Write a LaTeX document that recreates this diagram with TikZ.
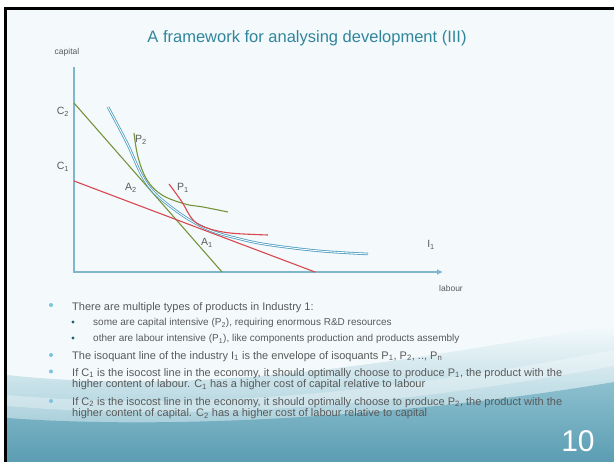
\documentclass[tikz,border=0pt]{standalone}
\usepackage{fontspec}
\setmainfont{Liberation Sans}
\usetikzlibrary{arrows.meta,positioning}
\definecolor{titleblue}{HTML}{31859C}
\definecolor{bodygray}{HTML}{595959}
\definecolor{slidebg}{HTML}{F4FAFC}
\definecolor{axisblue}{HTML}{7FB6CB}
\definecolor{envblue}{HTML}{4A9CC0}
\definecolor{costred}{HTML}{D9474F}
\definecolor{costgreen}{HTML}{77933C}
\definecolor{dotlight}{HTML}{7CC4DE}
\definecolor{dotdark}{HTML}{1F5F74}
\definecolor{wavelight}{HTML}{D2E7EE}
\definecolor{wavemid}{HTML}{8DC0CF}
\definecolor{wavedark}{HTML}{5B9DB3}

\tikzset{
  txt/.style={anchor=north west, inner sep=0pt, text=bodygray,
    font=\fontsize{11}{10}\selectfont, align=left},
  subtxt/.style={txt, font=\fontsize{10}{10}\selectfont},
  lbl/.style={inner sep=0pt, text=bodygray, font=\fontsize{10.5}{12}\selectfont},
  axlbl/.style={lbl, font=\fontsize{8.5}{10}\selectfont},
  bigdot/.style={circle, fill=dotlight, inner sep=0pt, minimum size=4pt},
  smalldot/.style={circle, fill=dotdark, inner sep=0pt, minimum size=3.4pt},
  isocost/.style={line width=1.1pt},
  envelope/.style={draw=envblue, double=white, line width=0.8pt, double distance=0.9pt},
}

\begin{document}
\begin{tikzpicture}[x=1pt,y=-1pt]
\useasboundingbox (0,0) rectangle (614,462);
% slide
\fill[white] (0,0) rectangle (614,462);
\fill[black] (4,7) rectangle (614,462);
\fill[slidebg] (7,10) rectangle (614,462);
\shade[top color=slidebg, bottom color=wavemid]
  (7,462) -- (7,375) .. controls (220,398) and (430,355) .. (614,325) -- (614,462) -- cycle;
\shade[top color=wavemid, bottom color=wavedark]
  (7,462) -- (7,418) .. controls (200,432) and (450,410) .. (614,382) -- (614,462) -- cycle;
\fill[white, opacity=0.3]
  (7,395) .. controls (220,414) and (430,385) .. (614,350) -- (614,366) .. controls (430,400) and (220,424) .. (7,406) -- cycle;

\node[text=titleblue, font=\fontsize{16.5}{19}\selectfont] (title) at (307,38) {A framework for analysing development (III)};

% axes
\coordinate (O) at (74,272);
\coordinate (ytop) at (74,67);
\coordinate (xend) at (443,272);
\draw[axisblue, line width=1.4pt, -{Latex[length=6pt,width=6pt]}] (ytop) -- (O) -- (xend);
\node[axlbl] (capital) at (67,52) {capital};
\node[axlbl] (labour) at (451,288) {labour};

% isocost lines
\coordinate (c2a) at (74,103);
\coordinate (c2b) at (222,272);
\coordinate (c1a) at (74,181);
\coordinate (c1b) at (315,272);
\draw[isocost, costgreen] (c2a) -- (c2b);
\draw[isocost, costred] (c1a) -- (c1b);

% envelope I1
\draw[envelope] plot[smooth, tension=0.6] coordinates
  {(108,107) (127,143) (147,184) (175,210) (207,229) (240,239) (270,245) (320,251) (368,254)};
% isoquants
\draw[isocost, costgreen] plot[smooth, tension=0.6] coordinates
  {(134,133) (138,157) (147,180) (162,195) (185,204) (203,207) (228,212)};
\draw[isocost, costred] plot[smooth, tension=0.6] coordinates
  {(169,184) (182,202) (193,220) (207,228) (230,233) (268,235)};

% labels
\node[lbl] (lc2) at (63,112) {C\textsubscript{2}};
\node[lbl] (lc1) at (63,167) {C\textsubscript{1}};
\node[lbl] (lp2) at (141,140) {P\textsubscript{2}};
\node[lbl] (lp1) at (183,188) {P\textsubscript{1}};
\node[lbl] (la2) at (131,188) {A\textsubscript{2}};
\node[lbl] (la1) at (207,243) {A\textsubscript{1}};
\node[lbl] (li1) at (431,245) {I\textsubscript{1}};

% bullets
\node[txt] (b1) at (72,302) {There are multiple types of products in Industry 1:};
\node[subtxt] (s1) at (93,318.5) {some are capital intensive (P\textsubscript{2}), requiring enormous R\&D resources};
\node[subtxt] (s2) at (93,334.5) {other are labour intensive (P\textsubscript{1}), like components production and products assembly};
\node[txt] (b2) at (72,351) {The isoquant line of the industry I\textsubscript{1} is the envelope of isoquants P\textsubscript{1}, P\textsubscript{2}, .., P\textsubscript{n}};
\node[txt] (b3) at (72,368) {If C\textsubscript{1} is the isocost line in the economy, it should optimally choose to produce P\textsubscript{1}, the product with the\\higher content of labour. C\textsubscript{1} has a higher cost of capital relative to labour};
\node[txt] (b4) at (72,397) {If C\textsubscript{2} is the isocost line in the economy, it should optimally choose to produce P\textsubscript{2}, the product with the\\higher content of capital. C\textsubscript{2} has a higher cost of labour relative to capital};
\node[bigdot] (d1) at (51,305) {};
\node[smalldot] (d2) at (73,322) {};
\node[smalldot] (d3) at (73,338) {};
\node[bigdot] (d4) at (51,355) {};
\node[bigdot] (d5) at (51,371.5) {};
\node[bigdot] (d6) at (51,401) {};

\node[text=white, font=\fontsize{30}{32}\selectfont] (page) at (578,441) {10};
\end{tikzpicture}
\end{document}
